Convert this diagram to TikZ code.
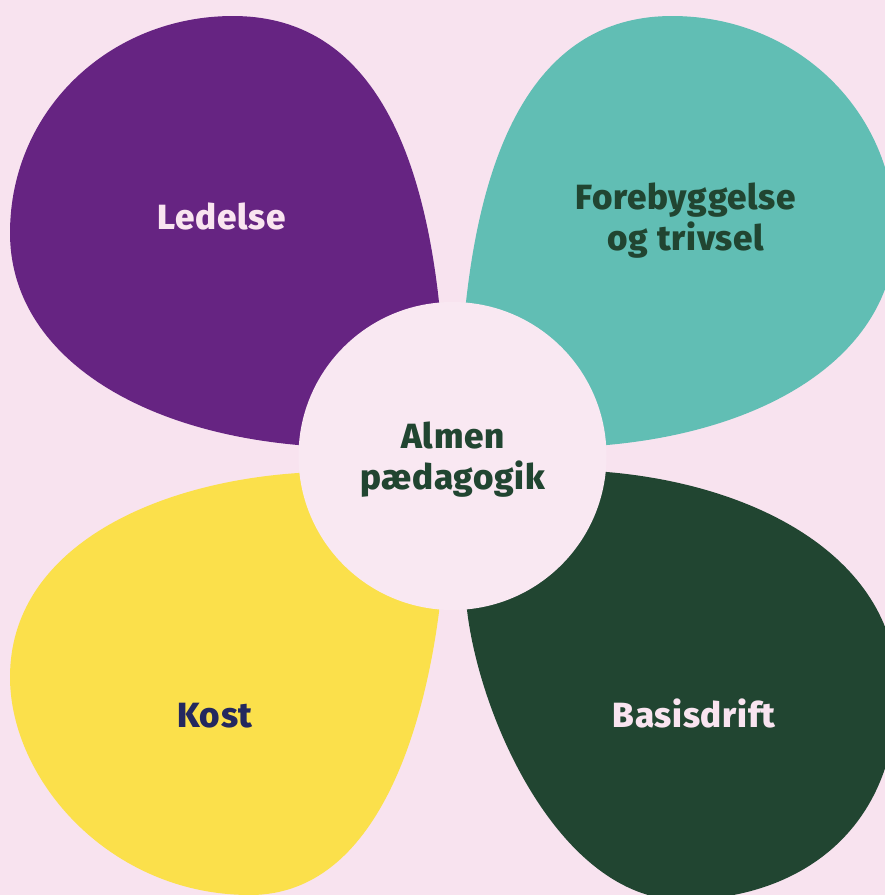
\documentclass[tikz,border=0pt]{standalone}
\usepackage{fontspec}
\setmainfont{Fira Sans}[BoldFont={Fira Sans ExtraBold}]
\definecolor{bgpink}{HTML}{F8E3EF}
\definecolor{circpink}{HTML}{F9E8F2}
\definecolor{petpurple}{HTML}{662482}
\definecolor{petteal}{HTML}{61BEB4}
\definecolor{petyellow}{HTML}{FBE04B}
\definecolor{petgreen}{HTML}{214531}
\definecolor{navy}{HTML}{23285F}
\definecolor{lighttext}{HTML}{F9E4F0}
\tikzset{
  lbl/.style={anchor=base, align=center, inner sep=0pt,
    font=\fontsize{35}{41}\selectfont\bfseries\addfontfeatures{LetterSpace=2}},
}
\begin{document}
\begin{tikzpicture}[x=1pt,y=-1pt]
\useasboundingbox (0,0) rectangle (885,895);
\fill[bgpink] (0,0) rectangle (885,895);
\begin{scope}
\clip (0,0) rectangle (885,895);
\fill[petpurple] (446,452) -- (439,302) .. controls (420,130) and (360,16) .. (233,16)
  .. controls (110,16) and (10,110) .. (10,233)
  .. controls (10,350) and (130,430) .. (298,445) -- cycle;
\fill[petteal] (459,452) -- (466,302) .. controls (485,130) and (545,16) .. (672,16)
  .. controls (795,16) and (895,110) .. (895,233)
  .. controls (895,350) and (775,430) .. (607,445) -- cycle;
\fill[petyellow] (446,464) -- (298,473) .. controls (150,483) and (10,550) .. (10,677)
  .. controls (10,780) and (110,895) .. (250,895)
  .. controls (380,895) and (425,720) .. (439,612) -- cycle;
\fill[petgreen] (459,464) -- (467,610) .. controls (480,720) and (560,897) .. (680,900)
  .. controls (800,900) and (897,830) .. (897,690)
  .. controls (897,560) and (760,485) .. (607,472) -- cycle;
\end{scope}
\node[circle, fill=circpink, minimum size=308pt, inner sep=0pt] (hub) at (452.5,456) {};
\node[lbl, text=petgreen] (almen) at (453,489) {Almen\\pædagogik};
\node[lbl, text=lighttext] (ledelse) at (222,229) {Ledelse};
\node[lbl, text=petgreen] (forebyg) at (686,250) {Forebyggelse\\og trivsel};
\node[lbl, text=navy] (kost) at (215,727) {Kost};
\node[lbl, text=lighttext] (basis) at (694,727) {Basisdrift};
\end{tikzpicture}
\end{document}
